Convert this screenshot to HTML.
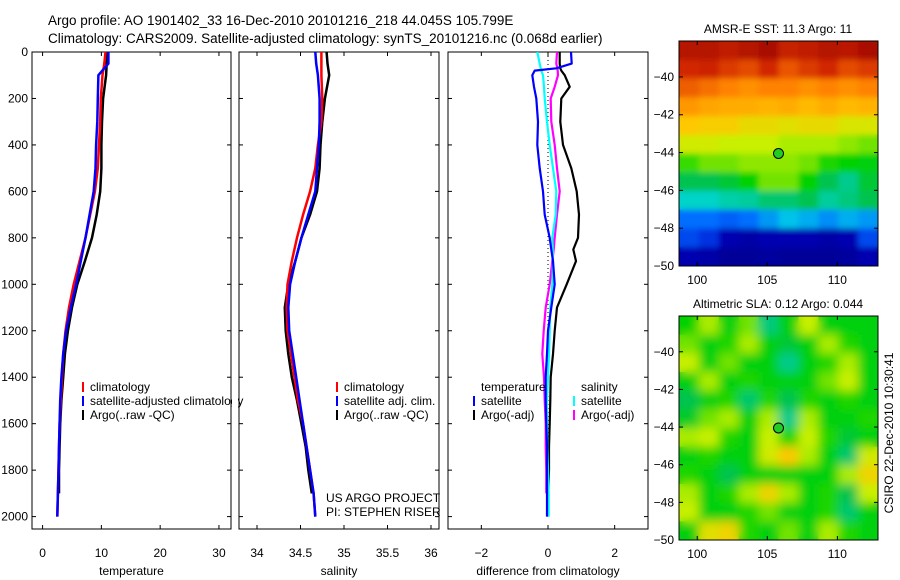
<!DOCTYPE html>
<html><head><meta charset="utf-8"><style>
body{margin:0;background:#fff}
svg{display:block;font-family:"Liberation Sans",sans-serif}
text{font-size:12px;fill:#000}
</style></head><body>
<svg id="c" width="900" height="580" viewBox="0 0 900 580">
<defs>
<clipPath id="m1c"><rect x="679" y="41" width="199" height="225"/></clipPath>
<clipPath id="m2c"><rect x="679" y="316" width="199" height="224"/></clipPath>
<filter id="bl" x="-0.1" y="-0.1" width="1.2" height="1.2"><feGaussianBlur stdDeviation="5"/></filter>
<filter id="bl2" x="-0.1" y="-0.1" width="1.2" height="1.2"><feGaussianBlur stdDeviation="3"/></filter>
</defs>
<text x="48" y="25" style="font-size:13.5px">Argo profile: AO 1901402_33 16-Dec-2010 20101216_218 44.045S 105.799E</text>
<text x="48" y="43" style="font-size:13.5px">Climatology: CARS2009. Satellite-adjusted climatology: synTS_20101216.nc (0.068d earlier)</text>
<g id="g"></g>
</svg>
<script>
// ---- data ----
const depths=[0,50,100,200,300,400,500,600,700,800,900,1000,1100,1200,1300,1400,1500,1600,1700,1800,1900,2000];
const tempClim=[10.7,10.5,10.2,9.9,9.8,9.6,9.4,8.9,8.1,7.3,6.3,5.3,4.5,3.9,3.5,3.3,3.1,2.9,2.8,2.7,2.6,2.5];
const tempSat=[11.2,11.2,9.5,9.4,9.3,9.1,9.0,8.7,8.0,7.3,6.5,5.7,4.8,4.0,3.5,3.2,3.0,2.9,2.8,2.7,2.6,2.5];
const tempArgo=[11,10.9,10.8,10.3,10.1,10.0,10.0,9.8,9.2,8.4,7.2,5.9,5.0,4.3,3.8,3.5,3.2,3.0,2.9,2.8,2.8];
const salClim=[34.74,34.74,34.74,34.75,34.74,34.70,34.67,34.61,34.53,34.46,34.40,34.35,34.34,34.35,34.39,34.43,34.47,34.53,34.57,34.61,34.65,34.67];
const salSat=[34.67,34.68,34.70,34.72,34.72,34.71,34.69,34.67,34.59,34.51,34.44,34.38,34.36,34.37,34.41,34.45,34.49,34.53,34.57,34.61,34.65,34.67];
const salArgo=[34.80,34.81,34.83,34.78,34.75,34.73,34.72,34.69,34.61,34.51,34.44,34.36,34.32,34.33,34.36,34.40,34.46,34.51,34.56,34.59,34.63];
const diffDepths=[0,50,70,80,100,150,200,300,400,500,600,700,800,850,900,1000,1100,1200,1300,1400,1500,1600,1700,1800,1900,2000];
const dTempSat=[0.69,0.71,0.25,-0.4,-0.47,-0.42,-0.35,-0.3,-0.32,-0.25,-0.15,-0.1,0.05,0.1,0.15,0.2,0.1,0,-0.03,-0.07,-0.07,-0.05,-0.03,-0.03,-0.03,-0.03];
const dTempArgo=[0.35,0.35,0.37,0.4,0.5,0.65,0.4,0.37,0.45,0.7,0.86,0.93,0.9,0.76,0.84,0.56,0.27,0.2,0.15,0.08,0.07,0.05,0.03,0.03,0.01];
const dSalSat=[-0.32,-0.25,-0.22,-0.2,-0.15,-0.12,-0.1,-0.03,0.05,0.15,0.25,0.23,0.13,0.14,0.15,0.13,0.07,0.05,0.03,0,-0.03,-0.03,-0.02,0,0.02,0.02];
const dSalArgo=[0.27,0.25,0.28,0.29,0.3,0.2,0.08,0.1,0.2,0.27,0.35,0.27,0.2,0.17,0.13,0.05,-0.07,-0.13,-0.17,-0.12,-0.1,-0.07,-0.07,-0.05,-0.05];
const depthTicks=[0,200,400,600,800,1000,1200,1400,1600,1800,2000];
const tempTicks=[0,10,20,30];
const salTicks=[34,34.5,35,35.5,36];
const diffTicks=[-2,0,2];
const lonTicks=[100,105,110];
const latTicks=[-40,-42,-44,-46,-48,-50];
const argoLon=105.8, argoLat=-44.05;
const sstGrid=[
[0.95,0.95,0.93,0.95,0.97,0.92,0.93,0.95,0.94,0.97],
[0.9,0.91,0.88,0.86,0.9,0.85,0.88,0.9,0.86,0.88],
[0.84,0.82,0.8,0.78,0.8,0.8,0.78,0.8,0.78,0.8],
[0.77,0.75,0.74,0.74,0.73,0.74,0.72,0.74,0.72,0.73],
[0.7,0.69,0.69,0.67,0.67,0.66,0.67,0.67,0.65,0.65],
[0.64,0.64,0.63,0.63,0.63,0.62,0.62,0.62,0.61,0.6],
[0.58,0.6,0.6,0.61,0.61,0.61,0.6,0.57,0.56,0.55],
[0.5,0.5,0.52,0.56,0.6,0.6,0.56,0.5,0.46,0.52],
[0.42,0.42,0.44,0.45,0.48,0.48,0.5,0.45,0.47,0.5],
[0.3,0.3,0.28,0.3,0.34,0.38,0.36,0.33,0.36,0.34],
[0.25,0.22,0.1,0.08,0.1,0.1,0.1,0.08,0.1,0.25],
[0.1,0.08,0.05,0.05,0.06,0.05,0.05,0.05,0.06,0.1]];
const slaGrid=[
[0.56,0.62,0.55,0.6,0.47,0.55,0.63,0.55,0.55,0.55],
[0.6,0.55,0.57,0.62,0.55,0.52,0.55,0.62,0.57,0.55],
[0.63,0.55,0.6,0.55,0.55,0.46,0.55,0.57,0.62,0.55],
[0.55,0.62,0.55,0.57,0.55,0.55,0.55,0.6,0.63,0.55],
[0.5,0.55,0.57,0.48,0.57,0.5,0.57,0.55,0.57,0.55],
[0.53,0.6,0.62,0.55,0.62,0.46,0.62,0.55,0.55,0.57],
[0.62,0.63,0.57,0.55,0.63,0.57,0.63,0.57,0.52,0.55],
[0.55,0.57,0.55,0.55,0.64,0.7,0.62,0.55,0.48,0.64],
[0.57,0.55,0.5,0.55,0.55,0.55,0.55,0.55,0.62,0.68],
[0.62,0.55,0.57,0.62,0.68,0.62,0.55,0.57,0.5,0.63],
[0.63,0.55,0.55,0.57,0.6,0.55,0.55,0.57,0.48,0.55],
[0.55,0.66,0.68,0.57,0.55,0.6,0.55,0.62,0.57,0.55]];

const NS='http://www.w3.org/2000/svg';
const G=document.getElementById('g');
function mk(tag,attrs,parent){const e=document.createElementNS(NS,tag);for(const k in attrs)e.setAttribute(k,attrs[k]);(parent||G).appendChild(e);return e;}
function txt(x,y,s,anchor,parent,size){const t=mk('text',{x:x,y:y,'text-anchor':anchor||'start'},parent);if(size)t.style.fontSize=size+'px';t.textContent=s;return t;}

const yD=d=>52+d*0.2323;
const panels=[
 {name:'temperature',x0:32,x1:231,lo:-1.8,hi:32.05,ticks:tempTicks,label:'temperature'},
 {name:'salinity',x0:239,x1:439,lo:33.793,hi:36.092,ticks:salTicks,label:'salinity'},
 {name:'difference',x0:448,x1:648,lo:-3.0,hi:3.0,ticks:diffTicks,label:'difference from climatology'}];
panels.forEach(p=>{p.sx=v=>p.x0+(v-p.lo)/(p.hi-p.lo)*(p.x1-p.x0);});

panels.forEach((p,i)=>{
 const g=mk('g',{});
 
 
 mk('rect',{x:p.x0,y:52,width:p.x1-p.x0,height:477,fill:'none',stroke:'#000','stroke-width':1},g);
 depthTicks.forEach(d=>{const y=yD(d);
  mk('line',{x1:p.x0,x2:p.x0+4,y1:y,y2:y,stroke:'#000'},g);
  mk('line',{x1:p.x1-4,x2:p.x1,y1:y,y2:y,stroke:'#000'},g);
  if(i===0){const t=txt(28,y+4,String(d),'end',g);}
 });
 p.ticks.forEach(v=>{const x=p.sx(v);
  mk('line',{x1:x,x2:x,y1:529,y2:525,stroke:'#000'},g);
  mk('line',{x1:x,x2:x,y1:52,y2:56,stroke:'#000'},g);
  const t=txt(x,557,String(v).replace('-','\u2212'),'middle',g);
  
  
 });
 const l=txt((p.x0+p.x1)/2,575,p.label,'middle',g);
 
 
});

function line(p,vals,deps,color,name,w){
 const pts=vals.map((v,k)=>p.sx(v).toFixed(1)+','+yD(deps[k]).toFixed(1)).join(' ');
 const e=mk('polyline',{points:pts,fill:'none',stroke:color,'stroke-width':w||2.5,'stroke-linejoin':'round'});
 
 
}
line(panels[0],tempArgo,depths,'#000','temp-argo-line');
line(panels[0],tempClim,depths,'#f00','temp-climatology-line');
line(panels[0],tempSat,depths,'#00f','temp-satellite-line');
line(panels[1],salArgo,depths,'#000','sal-argo-line');
line(panels[1],salClim,depths,'#f00','sal-climatology-line');
line(panels[1],salSat,depths,'#00f','sal-satellite-line');
const zl=mk('line',{x1:panels[2].sx(0),x2:panels[2].sx(0),y1:yD(0),y2:yD(2000),stroke:'#000','stroke-dasharray':'1,3'});


line(panels[2],dTempArgo,diffDepths,'#000','diff-temp-argo-line',2.2);
line(panels[2],dSalArgo,diffDepths,'#f0f','diff-sal-argo-line',2.2);
line(panels[2],dSalSat,diffDepths,'#0ff','diff-sal-satellite-line',2.2);
line(panels[2],dTempSat,diffDepths,'#00f','diff-temp-satellite-line',2.2);

function legend(x,y,color,label,name){
 const g=mk('g',{});
 
 
 if(color)mk('line',{x1:x,x2:x,y1:y-9,y2:y+1,stroke:color,'stroke-width':2},g);
 txt(x+7,y,label,'start',g);
}
legend(83,391,'#f00','climatology','legend-climatology');
legend(83,405,'#00f','satellite-adjusted climatology','legend-satellite-adjusted');
legend(83,419,'#000','Argo(..raw -QC)','legend-argo');
legend(337,391,'#f00','climatology','legend-sal-climatology');
legend(337,405,'#00f','satellite adj. clim.','legend-sal-satellite');
legend(337,419,'#000','Argo(..raw -QC)','legend-sal-argo');
legend(474,391,null,'temperature','legend-temperature-header');
legend(474,405,'#00f','satellite','legend-diff-temp-satellite');
legend(474,419,'#000','Argo(-adj)','legend-diff-temp-argo');
legend(574,391,null,'salinity','legend-salinity-header');
legend(574,405,'#0ff','satellite','legend-diff-sal-satellite');
legend(574,419,'#f0f','Argo(-adj)','legend-diff-sal-argo');
const cover=mk('rect',{x:232,y:390,width:6,height:20,fill:'#fff'});


const pr1=txt(326,502,'US ARGO PROJECT');
const pr2=txt(326,516,'PI: STEPHEN RISER');

const cmapStops=[[0,0,0,130],[0.15,0,0,200],[0.3,0,110,255],[0.4,0,215,230],[0.5,0,195,80],[0.56,0,210,0],[0.63,200,240,0],[0.7,255,200,0],[0.8,255,130,0],[0.9,210,40,0],[1,150,0,0]];
function cmap(v){
 for(let i=1;i<cmapStops.length;i++){const a=cmapStops[i-1],b=cmapStops[i];
  if(v<=b[0]){const t=(v-a[0])/(b[0]-a[0]);return 'rgb('+[1,2,3].map(k=>Math.round(a[k]+(b[k]-a[k])*t)).join(',')+')';}}
 return 'rgb(150,0,0)';
}
const lonLo=98.7,lonHi=112.9;
const sxL=x=>679+(x-lonLo)/(lonHi-lonLo)*199;
function map(y0,h,latTop,grid,clip,filt,name,title){
 const latBot=-50;
 const sy=l=>y0+(latTop-l)/(latTop-latBot)*h;
 const g=mk('g',{});
 
 
 const cg=mk('g',{'clip-path':'url(#'+clip+')'},g);
 const ug=mk('g',{},cg);
 const hg=mk('g',{filter:'url(#'+filt+')'},cg);
 const nr=grid.length,nc=grid[0].length;
 const dLat=(latTop-latBot)/nr,dLon=(lonHi-lonLo)/nc;
 [ug,hg].forEach(layer=>grid.forEach((row,r)=>row.forEach((v,c)=>{
  const x=sxL(lonLo+c*dLon),y=sy(latTop-r*dLat);
  const e=mk('rect',{x:x.toFixed(1),y:y.toFixed(1),width:(sxL(lonLo+(c+1)*dLon)-x+0.6).toFixed(1),height:(sy(latTop-(r+1)*dLat)-y+0.6).toFixed(1),fill:cmap(v)},layer);
  
  
 })));
 mk('rect',{x:679,y:y0,width:199,height:h,fill:'none',stroke:'#000'},g);
 lonTicks.forEach(v=>{const x=sxL(v);
  mk('line',{x1:x,x2:x,y1:y0+h,y2:y0+h-4,stroke:'#000'},g);
  mk('line',{x1:x,x2:x,y1:y0,y2:y0+4,stroke:'#000'},g);
  const t=txt(x,y0+h+18,String(v),'middle',g);
 });
 latTicks.forEach(v=>{const y=sy(v);
  mk('line',{x1:679,x2:683,y1:y,y2:y,stroke:'#000'},g);
  mk('line',{x1:874,x2:878,y1:y,y2:y,stroke:'#000'},g);
  const t=txt(674,y+4,String(v).replace('-','\u2212'),'end',g);
 });
 const dot=mk('circle',{cx:sxL(argoLon),cy:sy(argoLat),r:5,fill:'#2c2',stroke:'#000'},g);
 
 
 const t=txt(778,y0-8,title,'middle',g);
 
 
}
map(41,225,-38.1,sstGrid,'m1c','bl2','sst-map','AMSR-E SST: 11.3 Argo: 11');
map(316,224,-38.1,slaGrid,'m2c','bl','sla-map','Altimetric SLA: 0.12 Argo: 0.044');
const cs=txt(0,0,'CSIRO 22-Dec-2010 10:30:41','middle');
cs.setAttribute('transform','translate(893,433) rotate(-90)');


</script>
</body></html>
